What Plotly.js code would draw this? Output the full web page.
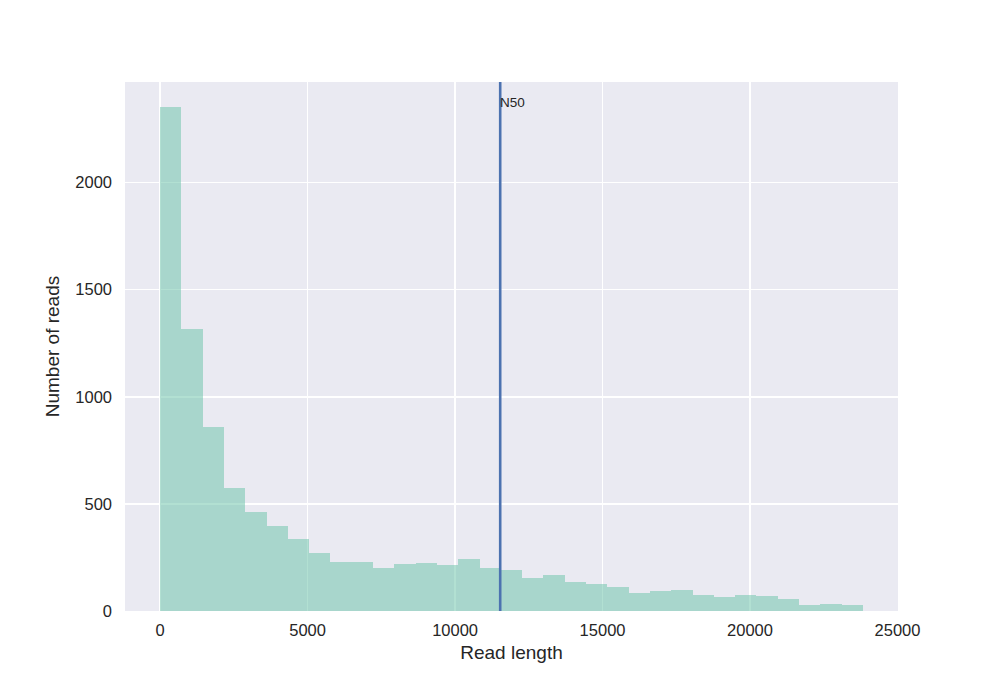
<!DOCTYPE html>
<html>
<head>
<meta charset="utf-8">
<script src="https://cdn.plot.ly/plotly-3.0.1.min.js"></script>
<style>
  html, body { margin: 0; padding: 0; background: #fff; }
  #chart { width: 1000px; height: 687px; }
</style>
</head>
<body>
<div id="chart"></div>
<script>
// histogram of read lengths, 33 bins starting at 0
const binStart = 0;
const binWidth = 722;
const readCounts = [
  2352, 1316, 860, 576, 464, 396, 334, 271, 229, 230, 200,
  221, 224, 216, 242, 202, 193, 154, 169, 136, 128, 111,
  84, 92, 97, 77, 64, 73, 70, 55, 27, 34, 30
];
const n50 = 11530;
const xTicks = [0, 5000, 10000, 15000, 20000, 25000];
const yTicks = [0, 500, 1000, 1500, 2000];

const centers = readCounts.map((_, i) => binStart + binWidth * (i + 0.5));
const xMax = binStart + binWidth * readCounts.length;
const pad = (xMax - binStart) * 0.05;
const yMax = Math.max(...readCounts) * 1.05;

const bars = {
  type: 'bar',
  x: centers,
  y: readCounts,
  width: binWidth,
  marker: { color: 'rgba(102,194,165,0.5)', line: { width: 0 } },
  hoverinfo: 'skip',
  showlegend: false
};

const layout = {
  width: 1000, height: 687,
  paper_bgcolor: '#ffffff',
  plot_bgcolor: '#eaeaf2',
  margin: { l: 125, r: 102, t: 82, b: 76 },
  bargap: 0,
  font: { family: '"Liberation Sans", Arial, sans-serif', color: '#262626', size: 16.5 },
  xaxis: {
    range: [binStart - pad, xMax + pad],
    tickvals: xTicks,
    ticktext: xTicks.map(String),
    showgrid: true, gridcolor: '#ffffff', gridwidth: 1.6,
    zeroline: false, showline: false, ticks: '',
    ticklabelstandoff: 7,
    title: { text: 'Read length', font: { size: 19 }, standoff: 8 }
  },
  yaxis: {
    range: [0, yMax],
    tickvals: yTicks,
    ticktext: yTicks.map(String),
    showgrid: true, gridcolor: '#ffffff', gridwidth: 1.6,
    zeroline: false, showline: false, ticks: '',
    ticklabelstandoff: 12,
    title: { text: 'Number of reads', font: { size: 19 }, standoff: 10 }
  },
  shapes: [{
    type: 'line', xref: 'x', yref: 'paper',
    x0: n50, x1: n50, y0: 0, y1: 1,
    line: { color: '#4c72b0', width: 2.6 }
  }],
  annotations: [{
    x: n50, y: 2372, xref: 'x', yref: 'y',
    text: 'N50', showarrow: false,
    xanchor: 'left', yanchor: 'middle', xshift: -2,
    font: { size: 13.5, color: '#262626' }
  }]
};

Plotly.newPlot('chart', [bars], layout, { displayModeBar: false, staticPlot: true });
</script>
</body>
</html>
